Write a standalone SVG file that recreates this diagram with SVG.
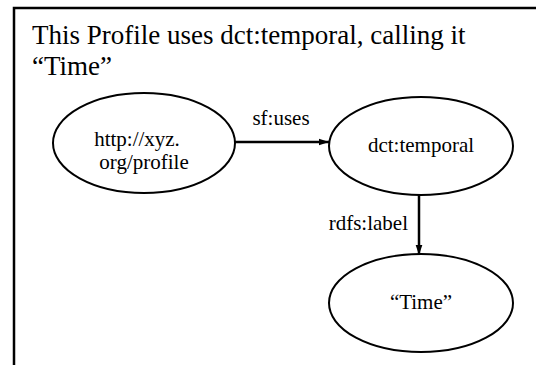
<svg xmlns="http://www.w3.org/2000/svg" width="536" height="365" viewBox="0 0 536 365">
<defs>
<marker id="ah" markerWidth="10" markerHeight="10" refX="15" refY="5" orient="auto" markerUnits="userSpaceOnUse" viewBox="0 0 15 10">
<path d="M0,0 L15,5 L0,10 z" fill="#000"/>
</marker>
<style>
.t{font-family:"Liberation Serif",serif;fill:#000}
.n{fill:#fff;stroke:#000;stroke-width:2}
.e{stroke:#000;stroke-width:2.5;fill:none;marker-end:url(#ah)}
</style>
</defs>
<rect width="536" height="365" fill="#fff"/>
<path d="M14,365 V8 H536" fill="none" stroke="#000" stroke-width="2.5"/>
<text class="t" x="32" y="44" font-size="27">This Profile uses dct:temporal, calling it</text>
<text class="t" x="32" y="75" font-size="27">“Time”</text>
<g id="connectors">
<line class="e" x1="235" y1="142" x2="329" y2="142"/>
<text class="t" x="281" y="125" font-size="21" text-anchor="middle">sf:uses</text>
<line class="e" x1="419" y1="195" x2="419" y2="255"/>
<text class="t" x="408" y="230" font-size="21" text-anchor="end">rdfs:label</text>
</g>
<g id="profile">
<ellipse class="n" cx="144" cy="143" rx="91" ry="50"/>
<text class="t" x="137" y="146" font-size="21" text-anchor="middle">http://xyz.</text>
<text class="t" x="144" y="169" font-size="21" text-anchor="middle">org/profile</text>
</g>
<g id="temporal">
<ellipse class="n" cx="421" cy="146" rx="92" ry="49"/>
<text class="t" x="421" y="152" font-size="21" text-anchor="middle">dct:temporal</text>
</g>
<g id="time">
<ellipse class="n" cx="421" cy="303" rx="92" ry="49"/>
<text class="t" x="421" y="309" font-size="21" text-anchor="middle">“Time”</text>
</g>
</svg>
